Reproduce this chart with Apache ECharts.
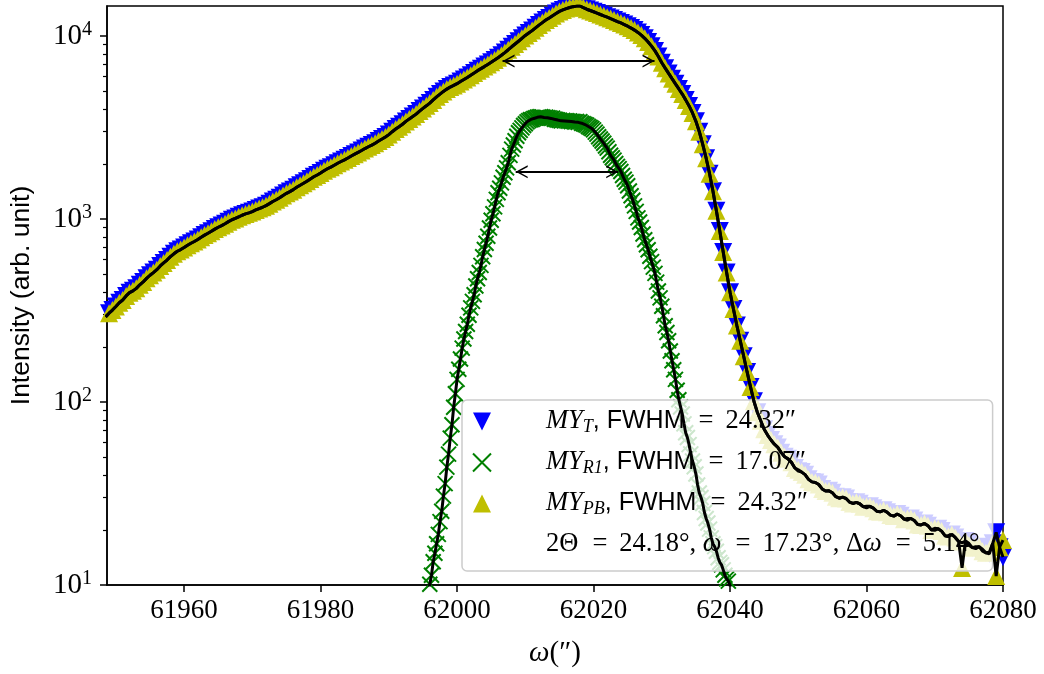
<!DOCTYPE html>
<html>
<head>
<meta charset="utf-8">
<script src="https://cdn.jsdelivr.net/npm/echarts@6/dist/echarts.min.js"></script>
<style>
  html, body { margin: 0; padding: 0; background: #ffffff; }
  #chart { width: 1044px; height: 674px; }
</style>
</head>
<body>
<div id="chart"></div>
<script>
// Rocking-curve scans. Each scan is sampled on an even omega grid (arcsec):
// T and PB from 61948.5 in 0.5" steps, R1 from 61995.5 in 0.25" steps.
const omegaStartTP = 61948.5, omegaStepTP = 0.5;
const omegaStartR1 = 61995.5, omegaStepR1 = 0.25;
const omegaRange = [61948.7, 62080];

// Intensity (arb. unit), ten samples (5") per row for T and PB
const myT = [
  292, 306, 318, 333, 349, 361, 380, 396, 405, 418,                 // 61948.5
  437, 453, 474, 493, 510, 529, 554, 576, 597, 623,                 // 61953.5
  646, 667, 681, 699, 719, 737, 754, 773, 796, 817,                 // 61958.5
  836, 858, 881, 902, 921, 943, 968, 991, 1008, 1029,               // 61963.5
  1049, 1067, 1081, 1099, 1122, 1141, 1160, 1184, 1214, 1247,       // 61968.5
  1275, 1307, 1346, 1382, 1413, 1448, 1492, 1531, 1568, 1609,       // 61973.5
  1657, 1702, 1741, 1787, 1837, 1883, 1922, 1967, 2018, 2063,       // 61978.5
  2106, 2156, 2212, 2262, 2313, 2369, 2428, 2484, 2536, 2597,       // 61983.5
  2671, 2737, 2808, 2894, 3002, 3104, 3196, 3297, 3418, 3527,       // 61988.5
  3631, 3746, 3889, 4025, 4158, 4303, 4480, 4655, 4817, 4985,       // 61993.5
  5131, 5267, 5372, 5493, 5641, 5787, 5944, 6115, 6290, 6472,       // 61998.5
  6636, 6810, 6998, 7190, 7398, 7620, 7858, 8120, 8420, 8740,       // 62003.5
  9050, 9370, 9720, 10080, 10390, 10710, 11090, 11480, 11850, 12230, // 62008.5
  12570, 12930, 13290, 13640, 13900, 14130, 14320, 14480, 14580, 14600, // 62013.5
  14300, 14020, 13800, 13580, 13350, 13120, 12900, 12690, 12460, 12240, // 62018.5
  12010, 11790, 11560, 11320, 11060, 10780, 10470, 10120, 9720, 9280, // 62023.5
  8810, 8300, 7740, 7150, 6680, 6250, 5850, 5480, 5140, 4820,       // 62028.5
  4480, 4150, 3800, 3420, 3000, 2560, 2150, 1770, 1420, 1110,       // 62033.5
  860, 660, 510, 398, 322, 262, 216, 178, 146, 121,                 // 62038.5
  101, 88, 79, 71, 66, 62, 58.8, 56.5, 52.9, 50.2,                  // 62043.5
  48.9, 46.8, 43.6, 41.9, 41.4, 40.1, 37.8, 36.6, 36.3, 35.4,       // 62048.5
  33.5, 32.6, 32.7, 31.9, 30.4, 29.8, 30.2, 29.7, 28.4, 27.9,       // 62053.5
  28.3, 27.8, 26.8, 26.4, 26.9, 26.3, 25.3, 25.1, 25.6, 25.0,       // 62058.5
  24.1, 23.8, 24.4, 23.9, 22.9, 22.6, 23.1, 22.5, 21.4, 21.3,       // 62063.5
  21.7, 21.1, 20.0, 19.9, 20.3, 19.7, 18.6, 18.4, 18.9, 18.2,       // 62068.5
  17.3, 17.0, 17.4, 16.9, 16.0, 15.8, 16.2, 15.7, 15.0, 14.8,       // 62073.5
  16.9, 19.4, 16.1, 14.2                                            // 62078.5
];

const myPB = [
  292, 306, 318, 333, 349, 361, 380, 396, 405, 418,                 // 61948.5
  437, 453, 474, 493, 510, 529, 554, 576, 597, 623,                 // 61953.5
  646, 667, 681, 699, 719, 737, 754, 773, 796, 817,                 // 61958.5
  836, 858, 881, 902, 921, 943, 968, 991, 1008, 1029,               // 61963.5
  1049, 1067, 1081, 1099, 1122, 1141, 1160, 1184, 1214, 1247,       // 61968.5
  1275, 1307, 1346, 1382, 1413, 1448, 1492, 1531, 1568, 1609,       // 61973.5
  1657, 1702, 1741, 1787, 1837, 1883, 1922, 1967, 2018, 2063,       // 61978.5
  2106, 2156, 2212, 2262, 2313, 2369, 2428, 2484, 2536, 2597,       // 61983.5
  2671, 2737, 2808, 2894, 3002, 3104, 3196, 3297, 3418, 3527,       // 61988.5
  3631, 3746, 3889, 4025, 4158, 4303, 4480, 4655, 4817, 4985,       // 61993.5
  5131, 5267, 5372, 5493, 5641, 5787, 5944, 6115, 6290, 6472,       // 61998.5
  6636, 6810, 6998, 7190, 7398, 7620, 7858, 8120, 8420, 8740,       // 62003.5
  9050, 9370, 9720, 10080, 10390, 10710, 11090, 11480, 11850, 12230, // 62008.5
  12570, 12930, 13290, 13640, 13900, 14130, 14320, 14480, 14580, 14600, // 62013.5
  14300, 14020, 13800, 13580, 13350, 13120, 12900, 12690, 12460, 12240, // 62018.5
  12010, 11790, 11560, 11320, 11060, 10780, 10470, 10120, 9720, 9280, // 62023.5
  8810, 8300, 7740, 7150, 6680, 6250, 5850, 5480, 5140, 4820,       // 62028.5
  4480, 4150, 3800, 3420, 3000, 2560, 2150, 1770, 1420, 1110,       // 62033.5
  860, 660, 510, 398, 322, 262, 216, 178, 146, 121,                 // 62038.5
  101, 88, 79, 71, 66, 62, 58.8, 56.5, 52.9, 50.2,                  // 62043.5
  48.9, 46.8, 43.6, 42.6, 41.4, 40.1, 37.8, 36.6, 36.3, 35.4,       // 62048.5
  33.5, 32.6, 32.7, 31.9, 30.4, 29.8, 30.2, 29.7, 28.4, 27.9,       // 62053.5
  28.3, 27.8, 26.8, 26.9, 26.9, 26.3, 25.3, 25.1, 25.6, 25.0,       // 62058.5
  24.1, 23.8, 24.4, 23.9, 22.9, 23.1, 23.1, 22.5, 21.4, 21.3,       // 62063.5
  21.7, 21.1, 20.0, 20.4, 20.3, 19.7, 18.6, 18.4, 18.9, 18.2,       // 62068.5
  17.3, 12.4, 17.4, 16.5, 16.0, 16.2, 16.2, 15.3, 15.0, 15.1,       // 62073.5
  16.9, 11.2, 16.1, 17.6                                            // 62078.5
];

// Intensity (arb. unit), eight samples (2") per row for R1
const myR1 = [
  7.6, 8.8, 10.1, 11.3, 13.4, 14.9, 16.8, 18.9,          // 61995.5
  22.2, 25.3, 30.6, 35.8, 44.1, 51.9, 63.5, 75.2,        // 61997.5
  93.6, 111, 133, 151, 172, 197, 221, 243,               // 61999.5
  266, 298, 327, 355, 386, 431, 472, 510,                // 62001.5
  558, 622, 681, 738, 806, 893, 985, 1068,               // 62003.5
  1166, 1281, 1392, 1474, 1576, 1693, 1790, 1903,        // 62005.5
  2030, 2228, 2410, 2538, 2680, 2832, 2960, 3051,        // 62007.5
  3150, 3242, 3320, 3398, 3450, 3491, 3500, 3546,        // 62009.5
  3570, 3597, 3610, 3622, 3615, 3588, 3600, 3579,        // 62011.5
  3571, 3548, 3560, 3510, 3497, 3475, 3470, 3441,        // 62013.5
  3462, 3438, 3450, 3428, 3436, 3414, 3420, 3389,        // 62015.5
  3411, 3376, 3400, 3342, 3320, 3284, 3260, 3207,        // 62017.5
  3166, 3123, 3070, 2985, 2910, 2818, 2740, 2668,        // 62019.5
  2594, 2508, 2440, 2331, 2230, 2163, 2100, 2011,        // 62021.5
  1940, 1887, 1820, 1731, 1650, 1591, 1520, 1423,        // 62023.5
  1340, 1266, 1180, 1101, 1015, 963, 900, 829,           // 62025.5
  770, 724, 680, 626, 585, 546, 505, 452,                // 62027.5
  404, 371, 334, 296, 261, 240, 216, 190,                // 62029.5
  168, 150, 133, 116, 103, 94, 86, 76,                   // 62031.5
  68, 64, 58.5, 52.1, 47.6, 44.3, 40.4, 35.2,            // 62033.5
  31.8, 30.1, 27.9, 24.9, 23.1, 21.8, 20.2, 18.1,        // 62035.5
  16.8, 16.2, 15.3, 14.1, 13.3, 12.9, 12.1, 11.3,        // 62037.5
  10.8, 10.5, 9.9, 9.1, 8.6                              // 62039.5
];

// Axis ticks
const xTicks = [61960, 61980, 62000, 62020, 62040, 62060, 62080];
const yTicks = [10, 100, 1000, 10000];
const yMinorTicks = [20, 30, 40, 50, 60, 70, 80, 90,
                     200, 300, 400, 500, 600, 700, 800, 900,
                     2000, 3000, 4000, 5000, 6000, 7000, 8000, 9000];
const yRange = [10, 14600];

// Peak widths (arcsec) with the centres of their arrows, and scan geometry (degrees)
const fwhmT = 24.32, fwhmR1 = 17.07, fwhmPB = 24.32;
const centreT = 62017.8, centreR1 = 62016.1;
const twoTheta = 24.18, omegaDeg = 17.23, deltaOmega = 5.14;

const SERIF = '"Liberation Serif", "DejaVu Serif", serif';
const SANS = '"Liberation Sans", "DejaVu Sans", sans-serif';

const toPoints = (start, step, ys) => ys.map((y, i) => [start + step * i, y]);
const dataT = toPoints(omegaStartTP, omegaStepTP, myT);
const dataPB = toPoints(omegaStartTP, omegaStepTP, myPB);
const dataR1 = toPoints(omegaStartR1, omegaStepR1, myR1);

const halfT = Math.max(...myT) / 2;
const halfR1 = Math.max(...myR1) / 2;

const DOWN_TRI = 'path://M0,0 L20,0 L10,20 Z';
const UP_TRI = 'path://M10,0 L20,20 L0,20 Z';
const CROSS = 'path://M0,0 L10,10 M10,0 L0,10';
const CHEVRON = 'path://M0,12 L7,0 L14,12 L12.2,12 L7,3.1 L1.8,12 Z';
const ARROW_SHRINK_PX = 7;   // arrow tips stop short of the width ends, like shrinkA/B

const LH = 30;
const MFS = 26.5;
const TEXT_INDENT = 33;      // gap between legend handle and its text
const legendRich = {
  mi: { fontFamily: SERIF, fontStyle: 'italic', fontSize: MFS, lineHeight: LH, verticalAlign: 'middle', color: '#000' },
  miL: { fontFamily: SERIF, fontStyle: 'italic', fontSize: MFS, lineHeight: LH, verticalAlign: 'middle', color: '#000',
         padding: [0, 0, 0, TEXT_INDENT] },
  sub: { fontFamily: SERIF, fontStyle: 'italic', fontSize: 18, lineHeight: 16, verticalAlign: 'bottom', color: '#000' },
  sf: { fontFamily: SANS, fontSize: 25, lineHeight: LH, verticalAlign: 'middle', color: '#000' },
  rm: { fontFamily: SERIF, fontSize: MFS, lineHeight: LH, verticalAlign: 'middle', color: '#000' },
  rmL: { fontFamily: SERIF, fontSize: MFS, lineHeight: LH, verticalAlign: 'middle', color: '#000',
         padding: [0, 0, 0, TEXT_INDENT] },
  eq: { fontFamily: SERIF, fontSize: MFS, lineHeight: LH, verticalAlign: 'middle', color: '#000', padding: [0, 12, 0, 14] }
};

const eqVal = v => '{eq|=}{rm|' + v.toFixed(2);
const legendText = {
  'MY_T': '{miL|MY}{sub|T}{sf|, FWHM}' + eqVal(fwhmT) + '″}',
  'MY_R1': '{miL|MY}{sub|R1}{sf|, FWHM}' + eqVal(fwhmR1) + '″}',
  'MY_PB': '{miL|MY}{sub|PB}{sf|, FWHM}' + eqVal(fwhmPB) + '″}',
  'geometry': '{rmL|2Θ}' + eqVal(twoTheta) + '°, }{mi|ω}' + eqVal(omegaDeg) +
              '°, Δ}{mi|ω}' + eqVal(deltaOmega) + '°}'
};

function fwhmArrow(centre, width, level, shrink) {
  return {
    silent: true,
    symbol: [CHEVRON, CHEVRON],
    symbolSize: [13, 12],
    symbolOffset: [[0, '50%'], [0, '50%']],
    label: { show: false },
    lineStyle: { color: '#000', width: 2, type: 'solid' },
    emphasis: { disabled: true },
    animation: false,
    data: [[{ coord: [centre - width / 2 + shrink, level] }, { coord: [centre + width / 2 - shrink, level] }]]
  };
}

const blackLine = (name, data) => ({
  id: name, type: 'line', name, data, showSymbol: false, symbol: 'none',
  lineStyle: { color: '#000', width: 3 }, z: 5, clip: true,
  emphasis: { disabled: true }, silent: true
});

const chart = echarts.init(document.getElementById('chart'), null, { renderer: 'canvas' });

chart.setOption({
  animation: false,
  backgroundColor: '#ffffff',
  grid: { left: 107, right: 41, top: 6, bottom: 89, show: true, borderColor: '#000', borderWidth: 1.5 },
  xAxis: {
    type: 'value',
    min: omegaRange[0],
    max: omegaRange[1],
    name: '{mi|ω}{rm|(″)}',
    nameLocation: 'middle',
    nameGap: 54,
    nameTextStyle: {
      rich: {
        mi: { fontFamily: SERIF, fontStyle: 'italic', fontSize: 29, color: '#000' },
        rm: { fontFamily: SERIF, fontSize: 29, color: '#000' }
      }
    },
    axisLine: { show: true, lineStyle: { color: '#000', width: 1.5 } },
    axisTick: { show: true, length: 7, lineStyle: { color: '#000', width: 1.5 }, customValues: xTicks },
    axisLabel: { show: true, customValues: xTicks, margin: 12, color: '#000', fontFamily: SERIF, fontSize: 27,
                 formatter: v => String(v) },
    splitLine: { show: false }
  },
  yAxis: [
    {
      type: 'log',
      logBase: 10,
      min: yRange[0],
      max: yRange[1],
      name: 'Intensity (arb. unit)',
      nameLocation: 'middle',
      nameGap: 72,
      nameTextStyle: { fontFamily: SANS, fontSize: 26.5, color: '#000' },
      axisLine: { show: true, lineStyle: { color: '#000', width: 1.5 } },
      axisTick: { show: true, length: 7, lineStyle: { color: '#000', width: 1.5 }, customValues: yTicks },
      axisLabel: {
        show: true, customValues: yTicks, margin: 15,
        formatter: v => '{b|10}{e|' + Math.round(Math.log10(v)) + '}',
        rich: {
          b: { fontFamily: SERIF, fontSize: 29, lineHeight: 32, verticalAlign: 'middle', color: '#000' },
          e: { fontFamily: SERIF, fontSize: 20, lineHeight: 17, verticalAlign: 'top', color: '#000' }
        }
      },
      splitLine: { show: false }
    },
    {
      type: 'log',
      logBase: 10,
      min: yRange[0],
      max: yRange[1],
      position: 'left',
      axisLine: { show: false },
      axisTick: { show: true, length: 4, lineStyle: { color: '#000', width: 1.2 }, customValues: yMinorTicks },
      axisLabel: { show: false },
      splitLine: { show: false }
    }
  ],
  legend: {
    orient: 'vertical',
    left: 462,
    top: 400,
    padding: [8, 13, 13, 10],
    itemWidth: 52,
    itemHeight: 18,
    itemGap: 12.5,
    selectedMode: false,
    backgroundColor: 'rgba(255,255,255,0.8)',
    borderColor: '#cccccc',
    borderWidth: 1.5,
    borderRadius: 5,
    data: [
      { name: 'MY_T' },
      { name: 'MY_R1' },
      { name: 'MY_PB' },
      { name: 'geometry', icon: 'circle', itemStyle: { opacity: 0 } }
    ],
    formatter: name => legendText[name],
    textStyle: { color: '#000', rich: legendRich }
  },
  series: [
    {
      type: 'scatter', name: 'MY_T', data: dataT,
      symbol: DOWN_TRI, symbolSize: 18, clip: true,
      itemStyle: { color: '#0000ff', opacity: 1 }, z: 2, silent: true
    },
    {
      type: 'scatter', name: 'MY_R1', data: dataR1,
      symbol: CROSS, symbolSize: 15, clip: true,
      itemStyle: { color: 'rgba(0,0,0,0)', borderColor: '#008000', borderWidth: 2, opacity: 1 }, z: 2, silent: true
    },
    {
      type: 'scatter', name: 'MY_PB', data: dataPB,
      symbol: UP_TRI, symbolSize: 18, clip: true,
      itemStyle: { color: '#bfbf00', opacity: 1 }, z: 2, silent: true
    },
    blackLine('MY_T line', dataT),
    blackLine('MY_R1 line', dataR1),
    blackLine('MY_PB line', dataPB),
    { type: 'line', name: 'geometry', data: [], itemStyle: { color: 'rgba(0,0,0,0)' } }
  ]
});

// FWHM arrows: the tip shrink is a fixed pixel distance, turned into omega units by the x axis scale
const pxPerArcsec = chart.convertToPixel({ xAxisIndex: 0 }, omegaRange[0] + 1) -
                    chart.convertToPixel({ xAxisIndex: 0 }, omegaRange[0]);
const shrink = ARROW_SHRINK_PX / pxPerArcsec;
chart.setOption({
  series: [
    { id: 'MY_T line', markLine: fwhmArrow(centreT, fwhmT, halfT, shrink) },
    { id: 'MY_R1 line', markLine: fwhmArrow(centreR1, fwhmR1, halfR1, shrink) }
  ]
});
</script>
</body>
</html>
